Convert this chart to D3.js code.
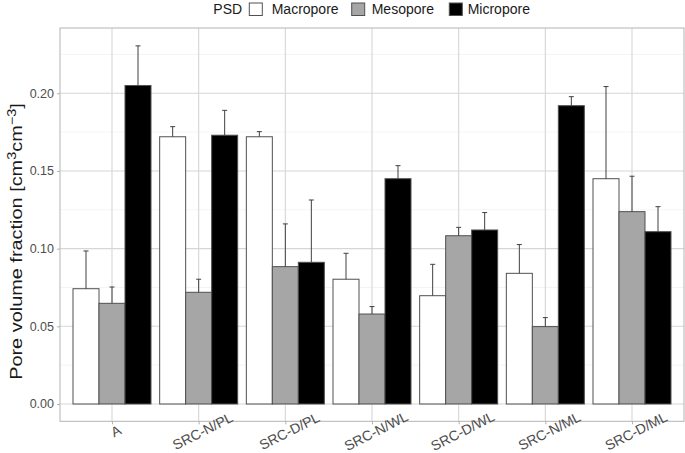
<!DOCTYPE html>
<html>
<head>
<meta charset="utf-8">
<script src="https://cdn.jsdelivr.net/npm/d3@7"></script>
<style>
  html, body { margin: 0; padding: 0; background: #fff; }
  svg { display: block; font-family: "Liberation Sans", Arial, sans-serif; }
</style>
</head>
<body>
<svg id="chart" width="685" height="453"></svg>
<script>
const categories = ["A", "SRC-N/PL", "SRC-D/PL", "SRC-N/WL", "SRC-D/WL", "SRC-N/ML", "SRC-D/ML"];
const seriesNames = ["Macropore", "Mesopore", "Micropore"];
const macropore = [0.0742, 0.172, 0.172, 0.0803, 0.0697, 0.0841, 0.145];
const mesopore  = [0.0648, 0.0719, 0.0884, 0.0579, 0.1083, 0.0498, 0.1238];
const micropore = [0.205, 0.173, 0.0912, 0.145, 0.112, 0.192, 0.1109];
const macroErr = [0.0243, 0.0065, 0.0033, 0.0167, 0.0202, 0.0185, 0.0593];
const mesoErr  = [0.0105, 0.0084, 0.0275, 0.0048, 0.0054, 0.0058, 0.0228];
const microErr = [0.0255, 0.016, 0.0401, 0.0084, 0.0112, 0.0058, 0.0161];
const yTicks = [0, 0.05, 0.10, 0.15, 0.20];
const yMinorTicks = [0.025, 0.075, 0.125, 0.175, 0.225];
const fills = ["#ffffff", "#a6a6a6", "#000000"];

const values = [macropore, mesopore, micropore];
const errors = [macroErr, mesoErr, microErr];

const svg = d3.select("#chart");
const P = { left: 60, right: 684, top: 28, bottom: 421.3 };

const x = d3.scalePoint().domain(categories).range([P.left, P.right]).padding(0.6);
const step = x.step();
const xSub = d3.scaleBand().domain(seriesNames).range([-0.45 * step, 0.45 * step]);
const y = d3.scaleLinear().domain([-0.01114, 0.2420]).range([P.bottom, P.top]);

// grid
const g = svg.append("g");
g.selectAll(".minor").data(yMinorTicks).join("line")
  .attr("x1", P.left).attr("x2", P.right)
  .attr("y1", d => y(d)).attr("y2", d => y(d))
  .attr("stroke", "#ececec").attr("stroke-width", 0.6);
g.selectAll(".majory").data(yTicks).join("line")
  .attr("x1", P.left).attr("x2", P.right)
  .attr("y1", d => y(d)).attr("y2", d => y(d))
  .attr("stroke", "#d6d6d6").attr("stroke-width", 1.1);
g.selectAll(".majorx").data(categories).join("line")
  .attr("x1", d => x(d)).attr("x2", d => x(d))
  .attr("y1", P.top).attr("y2", P.bottom)
  .attr("stroke", "#d6d6d6").attr("stroke-width", 1.1);

// bars
const barData = [];
categories.forEach((c, i) => {
  seriesNames.forEach((s, j) => {
    barData.push({ c, s, j, v: values[j][i], e: errors[j][i] });
  });
});

const bars = svg.append("g");
bars.selectAll("rect").data(barData).join("rect")
  .attr("x", d => x(d.c) + xSub(d.s))
  .attr("width", xSub.bandwidth())
  .attr("y", d => y(d.v))
  .attr("height", d => y(0) - y(d.v))
  .attr("fill", d => fills[d.j])
  .attr("stroke", "#505050").attr("stroke-width", 1);

// error bars (upper)
const eb = svg.append("g").attr("stroke", "#404040").attr("stroke-width", 1);
eb.selectAll(".v").data(barData).join("line")
  .attr("x1", d => x(d.c) + xSub(d.s) + xSub.bandwidth() / 2)
  .attr("x2", d => x(d.c) + xSub(d.s) + xSub.bandwidth() / 2)
  .attr("y1", d => y(d.v)).attr("y2", d => y(d.v + d.e));
eb.selectAll(".cap").data(barData).join("line")
  .attr("x1", d => x(d.c) + xSub(d.s) + xSub.bandwidth() / 2 - 2.5)
  .attr("x2", d => x(d.c) + xSub(d.s) + xSub.bandwidth() / 2 + 2.5)
  .attr("y1", d => y(d.v + d.e)).attr("y2", d => y(d.v + d.e));

// panel border
svg.append("rect")
  .attr("x", P.left).attr("y", P.top)
  .attr("width", P.right - P.left).attr("height", P.bottom - P.top)
  .attr("fill", "none").attr("stroke", "#b3b3b3").attr("stroke-width", 1);

// y axis
const yAxis = d3.axisLeft(y).tickValues(yTicks).tickFormat(d3.format(".2f")).tickSize(3).tickPadding(3);
const ya = svg.append("g").attr("transform", `translate(${P.left},0)`).call(yAxis);
ya.select(".domain").remove();
ya.selectAll(".tick line").attr("stroke", "#b3b3b3");
ya.selectAll(".tick text").attr("fill", "#4d4d4d").attr("font-size", 12.5)
  .attr("font-family", "Liberation Sans, Arial, sans-serif");

// x axis
const xAxis = d3.axisBottom(x).tickSize(3).tickFormat("");
const xa = svg.append("g").attr("transform", `translate(0,${P.bottom})`).call(xAxis);
xa.select(".domain").remove();
xa.selectAll(".tick line").attr("stroke", "#b3b3b3");
svg.append("g").selectAll("text").data(categories).join("text")
  .attr("transform", d => `translate(${x(d) + 4},431) rotate(-27)`)
  .attr("text-anchor", "middle").attr("dominant-baseline", "central")
  .attr("font-size", 14).attr("fill", "#4d4d4d")
  .text(d => d);

// y title
const yt = svg.append("text")
  .attr("text-anchor", "middle")
  .attr("font-size", 16.5).attr("fill", "#1a1a1a");
yt.append("tspan").text("Pore volume fraction [cm");
yt.append("tspan").attr("dy", -6).attr("font-size", 12).text("3");
yt.append("tspan").attr("dy", 6).text("cm");
yt.append("tspan").attr("dy", -6).attr("font-size", 12).text("\u22123");
yt.append("tspan").attr("dy", 6).text("]");
const tl = yt.node().getComputedTextLength();
const sx = 277 / tl;
yt.attr("transform", `translate(22,241.5) rotate(-90) scale(${sx},1)`);

// legend
const lg = svg.append("g");
lg.append("text").attr("x", 213.3).attr("y", 14).attr("font-size", 14).attr("fill", "#1a1a1a").text("PSD");
const keyX = [249.3, 351.7, 449.3];
const txtX = [271.7, 371.7, 467.7];
seriesNames.forEach((s, j) => {
  lg.append("rect").attr("x", keyX[j]).attr("y", 3).attr("width", 13).attr("height", 12.5)
    .attr("fill", fills[j]).attr("stroke", "#505050").attr("stroke-width", 1);
  lg.append("text").attr("x", txtX[j]).attr("y", 14).attr("font-size", 14).attr("fill", "#1a1a1a").text(s);
});
</script>
</body>
</html>
